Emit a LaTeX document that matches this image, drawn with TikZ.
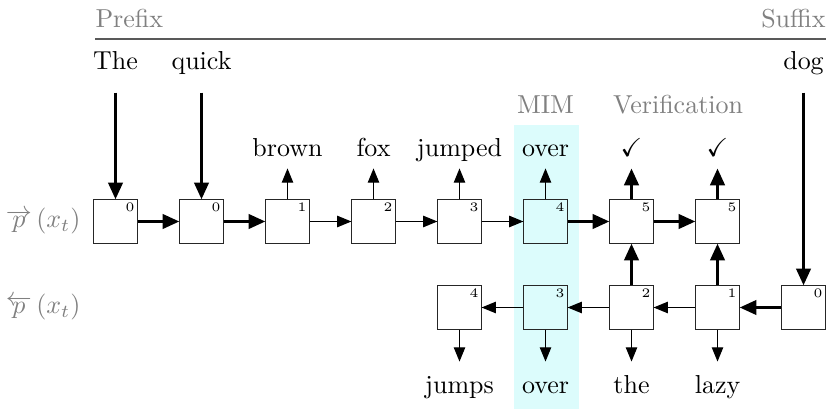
\documentclass[tikz,border=0pt]{standalone}
\usepackage{amssymb}
\usetikzlibrary{arrows.meta}
\definecolor{bandcyan}{RGB}{220,252,252}
\begin{document}
\begin{tikzpicture}[x=0.385pt,y=-0.385pt,
  cell/.style={draw=black!85, line width=0.4pt, minimum size=16.6pt, inner sep=0pt},
  idx/.style={font=\tiny, inner sep=1pt, anchor=north east},
  word/.style={inner sep=0pt, text height=7pt, text depth=2pt, anchor=base},
  lbl/.style={text=gray},
  thin/.style={line width=0.45pt, -{Triangle[length=5.5pt,width=4.4pt]}},
  thick/.style={line width=1.3pt, -{Triangle[length=6.5pt,width=5.5pt]}}
]
\useasboundingbox (0,0) rectangle (828,409);
% band
\fill[bandcyan] (514,125) rectangle (579,409);
% header
\node[lbl, anchor=base west, inner sep=0pt] (prefix) at (95,28) {Prefix};
\node[lbl, anchor=base east, inner sep=0pt] (suffix) at (826,28) {Suffix};
\draw[black!65, line width=0.5pt] (prefix.south west |- 0,39) coordinate (hl) -- (suffix.south east |- 0,39) coordinate (hr);
\node[lbl, word] (mim) at (545.5,114) {MIM};
\node[lbl, word] (verif) at (678,114) {Verification};
% left labels
\node[lbl, anchor=east, inner sep=0pt] (fwd) at (81,221.5) {$\overrightarrow{p}\,(x_t)$};
\node[lbl, anchor=east, inner sep=0pt] (bwd) at (81,307.5) {$\overleftarrow{p}\,(x_t)$};
% top row
\foreach \n/\i/\k in {t0a/0/0, t0b/1/0, t1/2/1, t2/3/2, t3/4/3, t4/5/4, t5a/6/5, t5b/7/5}{
  \node[cell] (\n) at ({115.5+86*\i},221.5) {};
  \node[idx] (\n n) at (\n.north east) {\k};
}
% bottom row
\foreach \n/\i/\k in {b4/4/4, b3/5/3, b2/6/2, b1/7/1, b0/8/0}{
  \node[cell] (\n) at ({115.5+86*\i},307.5) {};
  \node[idx] (\n n) at (\n.north east) {\k};
}
% words
\node[word] (wThe) at (115.5,70) {The};
\node[word] (wquick) at (201.5,70) {quick};
\node[word] (wdog) at (803.5,70) {dog};
\node[word] (wbrown) at (287.5,157) {brown};
\node[word] (wfox) at (373.5,157) {fox};
\node[word] (wjumped) at (459.5,157) {jumped};
\node[word] (wover) at (545.5,157) {over};
\node[word] (wc1) at (631.5,157) {$\checkmark$};
\node[word] (wc2) at (717.5,157) {$\checkmark$};
\node[word] (wjumps) at (459.5,393) {jumps};
\node[word] (wover2) at (545.5,393) {over};
\node[word] (wthe) at (631.5,393) {the};
\node[word] (wlazy) at (717.5,393) {lazy};
% input arrows
\draw[thick, shorten <=6.5pt] (wThe.south) -- (t0a.north);
\draw[thick, shorten <=6.5pt] (wquick.south) -- (t0b.north);
\draw[thick, shorten <=6.5pt] (wdog.south) -- (b0.north);
% top row chain
\draw[thick] (t0a) -- (t0b);
\draw[thick] (t0b) -- (t1);
\draw[thin] (t1) -- (t2);
\draw[thin] (t2) -- (t3);
\draw[thin] (t3) -- (t4);
\draw[thick] (t4) -- (t5a);
\draw[thick] (t5a) -- (t5b);
% bottom row chain
\draw[thick] (b0) -- (b1);
\draw[thin] (b1) -- (b2);
\draw[thin] (b2) -- (b3);
\draw[thin] (b3) -- (b4);
% verification links
\draw[thick] (b2) -- (t5a);
\draw[thick] (b1) -- (t5b);
% outputs top
\draw[thin, shorten >=2.2pt] (t1.north) -- (wbrown.south);
\draw[thin, shorten >=2.2pt] (t2.north) -- (wfox.south);
\draw[thin, shorten >=2.2pt] (t3.north) -- (wjumped.south);
\draw[thin, shorten >=2.2pt] (t4.north) -- (wover.south);
\draw[thick, shorten >=2.2pt] (t5a.north) -- (wc1.south);
\draw[thick, shorten >=2.2pt] (t5b.north) -- (wc2.south);
% outputs bottom
\draw[thin, shorten >=4.9pt] (b4.south) -- (wjumps.north);
\draw[thin, shorten >=4.9pt] (b3.south) -- (wover2.north);
\draw[thin, shorten >=4.9pt] (b2.south) -- (wthe.north);
\draw[thin, shorten >=4.9pt] (b1.south) -- (wlazy.north);
\end{tikzpicture}
\end{document}
